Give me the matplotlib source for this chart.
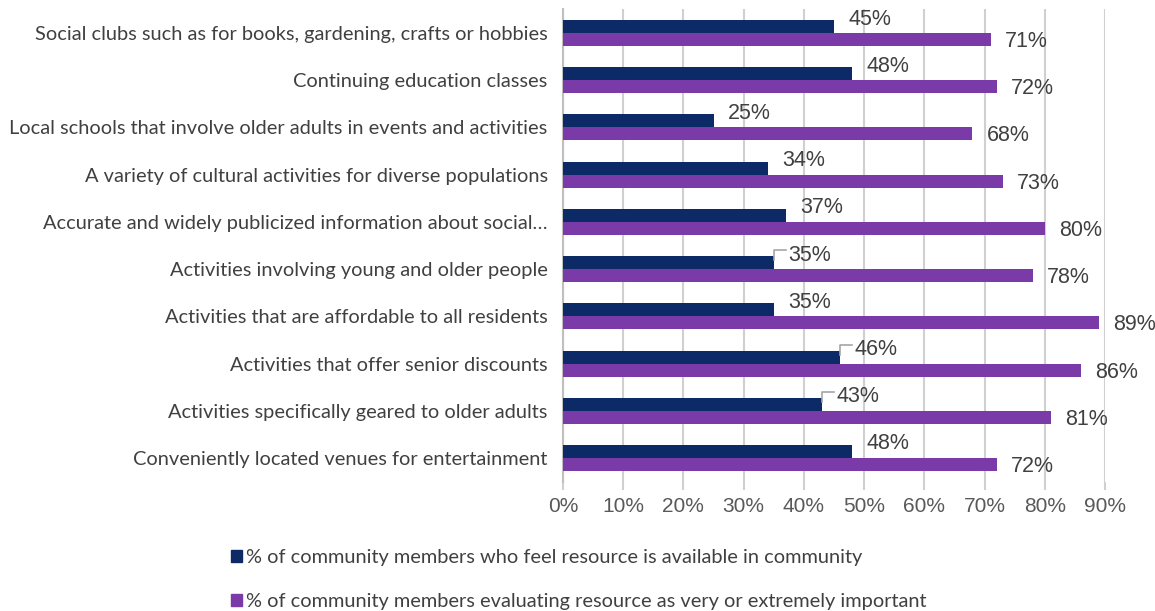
import matplotlib.pyplot as plt
from matplotlib.patches import Patch
from matplotlib.ticker import FuncFormatter
import matplotlib.transforms as mtransforms

categories = [
    "Social clubs such as for books, gardening, crafts or hobbies",
    "Continuing education classes",
    "Local schools that involve older adults in events and activities",
    "A variety of cultural activities for diverse populations",
    "Accurate and widely publicized information about social\u2026",
    "Activities involving young and older people",
    "Activities that are affordable to all residents",
    "Activities that offer senior discounts",
    "Activities specifically geared to older adults",
    "Conveniently located venues for entertainment",
]
available = [45, 48, 25, 34, 37, 35, 35, 46, 43, 48]
important = [71, 72, 68, 73, 80, 78, 89, 86, 81, 72]
leader_rows = [5, 7, 8]  # labels pushed off the bar end get a small connector

series_names = [
    "% of community members who feel resource is available in community",
    "% of community members evaluating resource as very or extremely important",
]
navy = "#0C2A66"
purple = "#7A3AA8"
label_font = "Lato"
num_font = "Liberation Sans"

fig = plt.figure(figsize=(11.55, 6.11), dpi=100)
ax = fig.add_axes([0.4874, 0.2118, 0.4693, 0.7728])

h = 0.275
ys = list(range(len(categories)))
ax.barh([y - h / 2 for y in ys], available, height=h, color=navy, zorder=3)
ax.barh([y + h / 2 for y in ys], important, height=h, color=purple, zorder=3)

ax.set_ylim(len(categories) - 0.5, -0.5)
ax.set_xlim(0, 90)
ax.set_xticks(range(0, 91, 10))
ax.xaxis.set_major_formatter(FuncFormatter(lambda v, p: f"{v:.0f}%"))
ax.set_yticks(ys)
ax.set_yticklabels(categories, fontfamily=label_font, fontsize=14.4, color="#404040")
ax.tick_params(axis="y", length=0, pad=11)
ax.tick_params(axis="x", length=6, width=1.5, color="#D0D0D0", labelsize=15,
               labelcolor="#595959", pad=5)
for lab in ax.get_xticklabels():
    lab.set_fontfamily(num_font)

ax.grid(axis="x", color="#D0D0D0", linewidth=1.5, zorder=0)
for side in ["top", "right", "bottom"]:
    ax.spines[side].set_visible(False)
ax.spines["left"].set_color("#BFBFBF")
ax.spines["left"].set_linewidth(1.5)

# value labels
for i in ys:
    ax.annotate(f"{available[i]}%", (available[i], i - h), xytext=(36, 1),
                textcoords="offset pixels", ha="center", va="center",
                fontsize=15.5, family=num_font, color="#404040", zorder=4,
                annotation_clip=False)
    ax.annotate(f"{important[i]}%", (important[i], i + h / 2), xytext=(36, -2),
                textcoords="offset pixels", ha="center", va="center",
                fontsize=15.5, family=num_font, color="#404040", zorder=4,
                annotation_clip=False)

for i in leader_rows:
    x0, y0 = available[i], i - h
    pts = [(0, -4), (0, 6), (12, 6)]
    xs, yy = [], []
    for dx, dy in pts:
        tr = mtransforms.offset_copy(ax.transData, fig=fig, x=dx, y=dy, units="dots")
        px, py = tr.transform((x0, y0))
        xs.append(px)
        yy.append(py)
    fig.add_artist(plt.Line2D(xs, yy, transform=None, color="#A6A6A6", linewidth=1.2))

handles = [Patch(color=navy), Patch(color=purple)]
fig.legend(handles, series_names, loc="upper left", bbox_to_anchor=(0.1935, 0.1145),
           frameon=False, handlelength=0.55, handleheight=0.55, handletextpad=0.2,
           labelspacing=1.35, prop={"family": label_font, "size": 14.4},
           labelcolor="#404040", borderaxespad=0)

fig.savefig("out.png", dpi=100)
